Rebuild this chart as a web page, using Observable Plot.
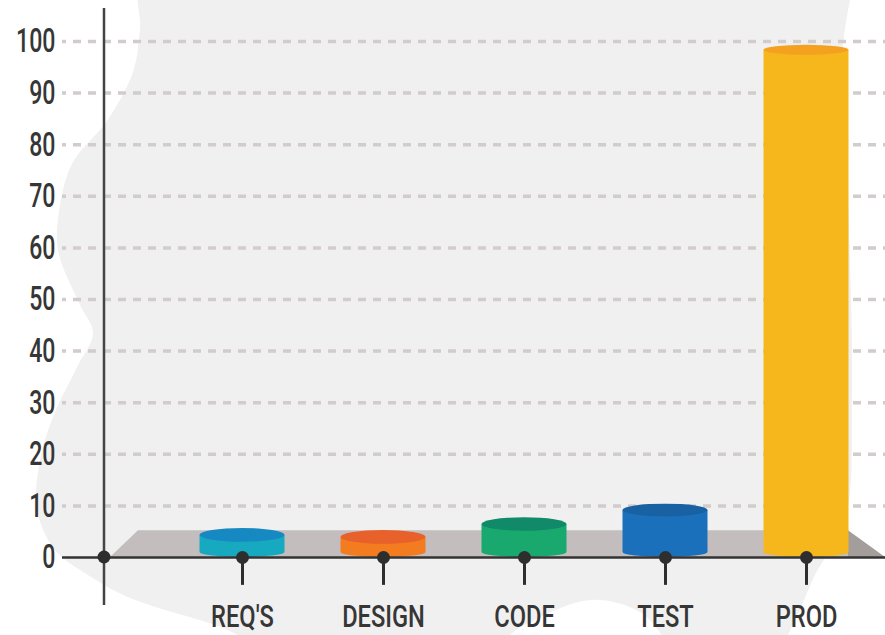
<!DOCTYPE html>
<html>
<head>
<meta charset="utf-8">
<script src="https://cdn.jsdelivr.net/npm/d3@7"></script>
<script src="https://cdn.jsdelivr.net/npm/@observablehq/plot@0.6"></script>
<style>
  html, body { margin: 0; padding: 0; background: #ffffff; }
  #wrap { position: relative; width: 885px; height: 635px; overflow: hidden; }
  #bg, #chart { position: absolute; left: 0; top: 0; }
</style>
</head>
<body>
<div id="wrap"><div id="bg"></div><div id="chart"></div></div>
<script>
// ---- data ----
const categories = ["REQ'S", "DESIGN", "CODE", "TEST", "PROD"];
const values = [4.3, 3.9, 6.4, 9.1, 98.3];
const bodyColors = ["#17a9bf", "#f37b20", "#19a86d", "#1b70bb", "#f6b71d"];
const topColors = ["#1789c2", "#e8612b", "#108a68", "#1862a4", "#f4a11f"];
const yTicks = [0, 10, 20, 30, 40, 50, 60, 70, 80, 90, 100];
const gridTicks = [10, 20, 30, 40, 50, 60, 70, 80, 90, 100];
const platformHeight = 5.2;

const data = categories.map((c, i) => ({cat: c, value: values[i], body: bodyColors[i], top: topColors[i]}));

const FONT = "Roboto, 'DejaVu Sans', sans-serif";
const TEXT = "#363636";

// decorative background blob (separate layer behind the chart)
{
  const pts = [[144,-20],[140,30],[133,72],[107,121],[73,162],[60,205],[58,250],[80,305],[93,333],[77,367],[53,417],[40,460],[37,510],[55,550],[88,575],[130,598],[215,625],[280,650],[480,650],[530,622],[590,600],[640,612],[680,650],[775,650],[795,620],[815,575],[845,520],[852,400],[848,200],[842,60],[850,0],[855,-20],[500,-30]];
  const svg = d3.create("svg").attr("width", 885).attr("height", 635);
  svg.append("path")
    .attr("d", d3.line().curve(d3.curveCatmullRomClosed)(pts))
    .attr("fill", "#f0f0f0");
  document.getElementById("bg").appendChild(svg.node());
}

// platform under the cylinders
const platform = (index, scales, vals, dim) => {
  const y0 = scales.y(0), y1 = scales.y(platformHeight);
  const xl = dim.marginLeft + 42;
  const xr = scales.x(categories[categories.length - 1]) + 42;
  const g = d3.create("svg:g");
  g.append("path")
    .attr("d", `M${xl + 6},${y0} L${xl + 34},${y1} L${xr},${y1} L${xr},${y0} Z`)
    .attr("fill", "#c3bebd");
  g.append("path")
    .attr("d", `M${xr},${y1} L${dim.width},${y0} L${xr},${y0} Z`)
    .attr("fill", "#a39d9c");
  return g.node();
};

// vertical y-axis line and origin dot
const yAxisLine = (index, scales, vals, dim) => {
  const x0 = dim.marginLeft + 42;
  return d3.create("svg:line").attr("x1", x0).attr("x2", x0).attr("y1", 8).attr("y2", 605)
    .attr("stroke", "#444").attr("stroke-width", 2.5).node();
};
const originDot = (index, scales, vals, dim) => {
  const x0 = dim.marginLeft + 42;
  return d3.create("svg:circle").attr("cx", x0).attr("cy", scales.y(0)).attr("r", 6.5).attr("fill", "#2e2e2e").node();
};

// cylinders
const cylinders = (index, scales, vals, dim) => {
  const g = d3.create("svg:g");
  const hw = 42.5;
  const yb = scales.y(0);
  const ytop = scales.y(100);
  for (const d of data) {
    const cx = scales.x(d.cat);
    const yt = scales.y(d.value);
    const frac = Math.max(0, Math.min(1, (yt - ytop) / (yb - ytop)));
    const ry = 5 + 2.5 * Math.pow(frac, 6);
    const rb = 5;
    const cb = yb - rb;
    g.append("ellipse").attr("cx", cx).attr("cy", cb).attr("rx", hw).attr("ry", rb).attr("fill", d.body);
    g.append("rect").attr("x", cx - hw).attr("y", yt).attr("width", 2 * hw).attr("height", Math.max(0, cb - yt)).attr("fill", d.body);
    g.append("ellipse").attr("cx", cx).attr("cy", yt).attr("rx", hw).attr("ry", ry).attr("fill", d.top);
  }
  return g.node();
};

const chart = Plot.plot({
  width: 885,
  height: 635,
  marginLeft: 62,
  marginRight: 0,
  marginTop: 41,
  marginBottom: 78,
  style: {background: "transparent", fontFamily: FONT, fontSize: "34px", color: TEXT},
  x: {type: "point", domain: categories, range: [242, 806], padding: 0, axis: null},
  y: {domain: [0, 100], ticks: yTicks, tickSize: 0, tickPadding: 7, label: null, tickFormat: d => String(d)},
  marks: [
    Plot.ruleY(gridTicks, {stroke: "#d2cccc", strokeWidth: 3.5, strokeDasharray: "8,7", strokeDashoffset: 4}),
    platform,
    yAxisLine,
    cylinders,
    Plot.ruleY([0], {stroke: "#333", strokeWidth: 2.5}),
    Plot.ruleX(categories, {x: d => d, y1: 0, y2: -5.4, stroke: "#2e2e2e", strokeWidth: 3}),
    Plot.dot(categories, {x: d => d, y: () => 0, r: 6.5, fill: "#2e2e2e", stroke: "none"}),
    originDot,
    Plot.text(categories, {x: d => d, y: () => 0, dy: 59, text: d => d, fontSize: 32, fill: TEXT, fontWeight: 500, className: "xlab"})
  ]
});

document.getElementById("chart").appendChild(chart);

// condense all text horizontally (narrow display face look)
chart.querySelectorAll("text").forEach(t => {
  const isX = t.closest(".xlab") !== null;
  const SX = isX ? 0.74 : 0.68;
  const x = parseFloat(t.getAttribute("x") || "0") || 0;
  const prev = t.getAttribute("transform") || "";
  t.setAttribute("transform", `${prev} translate(${x},0) scale(${SX},1) translate(${-x},0)`.trim());
  t.setAttribute("font-weight", "500");
  t.setAttribute("fill", TEXT);
});
</script>
</body>
</html>
